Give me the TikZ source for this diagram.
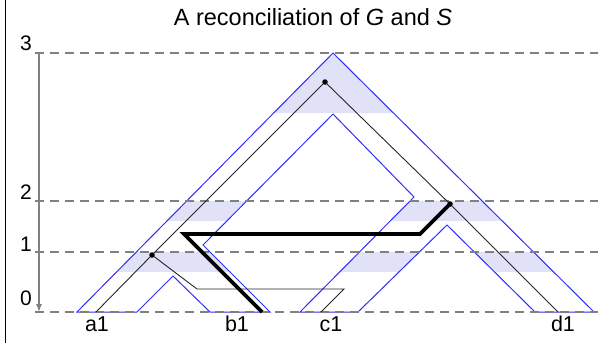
\documentclass[tikz,border=0pt]{standalone}
\usepackage{fontspec}
\setmainfont{Liberation Sans}
\usetikzlibrary{arrows.meta}
\definecolor{spblue}{RGB}{45,45,255}
\definecolor{bandfill}{RGB}{225,225,247}
\definecolor{gridgray}{RGB}{128,128,128}
\begin{document}
\begin{tikzpicture}[x=1pt,y=-1pt,
  species/.style={draw=spblue, line width=1pt, line join=miter},
  genebranch/.style={draw=black!85, line width=0.9pt},
  transferbranch/.style={draw=black, line width=3.6pt, line join=miter},
  levelline/.style={draw=gridgray, line width=1.3pt, dash pattern=on 9pt off 6pt},
  genedot/.style={circle, fill=black, inner sep=0pt, minimum size=5.5pt},
  lab/.style={font=\fontsize{21.5}{21.5}\selectfont, anchor=base, inner sep=0pt},
  axislab/.style={font=\fontsize{21}{21}\selectfont, anchor=base, inner sep=0pt}]
\useasboundingbox (0,0) rectangle (598,349);

% species tree outline path
\def\speciespath{(77,312) -- (333,53) -- (594,312) -- (535,312) -- (447,225) -- (358,312) -- (300,312) -- (414,197) -- (333,114) -- (203,245) -- (270,312) -- (210,312) -- (173,276) -- (137,312) -- cycle}

% shaded bands
\begin{scope}
  \clip \speciespath;
  \fill[bandfill] (0,53) rectangle (598,113);
  \fill[bandfill] (0,201) rectangle (598,220.5);
  \fill[bandfill] (0,252) rectangle (598,272);
\end{scope}

% species tree
\draw[species] \speciespath;

% level lines
\draw[levelline] (35,53) -- (598,53);
\draw[levelline] (35,201) -- (598,201);
\draw[levelline] (35,252) -- (598,252);
\draw[levelline] (35,312) -- (598,312);

% left frame line and time axis
\draw[black, line width=1pt] (5,0) -- (5,343);
\coordinate (ttop) at (39,53);
\coordinate (tbot) at (39,312);
\draw[gridgray, line width=1.3pt, -{Latex[length=8pt,width=6pt]}] (ttop) -- (tbot);
\node[axislab] (l3) at (26,50) {3};
\node[axislab] (l2) at (26,199) {2};
\node[axislab] (l1) at (26,251) {1};
\node[axislab] (l0) at (26,305) {0};

% title
\node[font=\fontsize{23.5}{23.5}\selectfont, anchor=base, inner sep=0pt] (title) at (313,25) {A reconciliation of \textit{G} and \textit{S}};

% gene tree
\coordinate (groot) at (325,82);
\coordinate (gab) at (152,255);
\coordinate (gcd) at (450,204);
\coordinate (ga1) at (96,312);
\coordinate (gb1) at (262,312);
\coordinate (gc1) at (321,312);
\coordinate (gd1) at (558,312);
\coordinate (gk1) at (197,289);
\coordinate (gk2) at (344,289);
\coordinate (gt1) at (420,234);
\coordinate (gt2) at (184,234);

\draw[genebranch] (groot) -- (gab);
\draw[genebranch] (groot) -- (gcd);
\draw[genebranch] (gab) -- (ga1);
\draw[genebranch] (gab) -- (gk1) -- (gk2) -- (gc1);
\draw[genebranch] (gcd) -- (gd1);
\draw[transferbranch] (gcd) -- (gt1) -- (gt2) -- (gb1);

\node[genedot] (droot) at (groot) {};
\node[genedot] (dab) at (gab) {};
\node[genedot] (dcd) at (gcd) {};

% leaf labels
\node[lab] (a1) at (97,331) {a1};
\node[lab] (b1) at (237,331) {b1};
\node[lab] (c1) at (331,331) {c1};
\node[lab] (d1) at (563,331) {d1};
\end{tikzpicture}
\end{document}
